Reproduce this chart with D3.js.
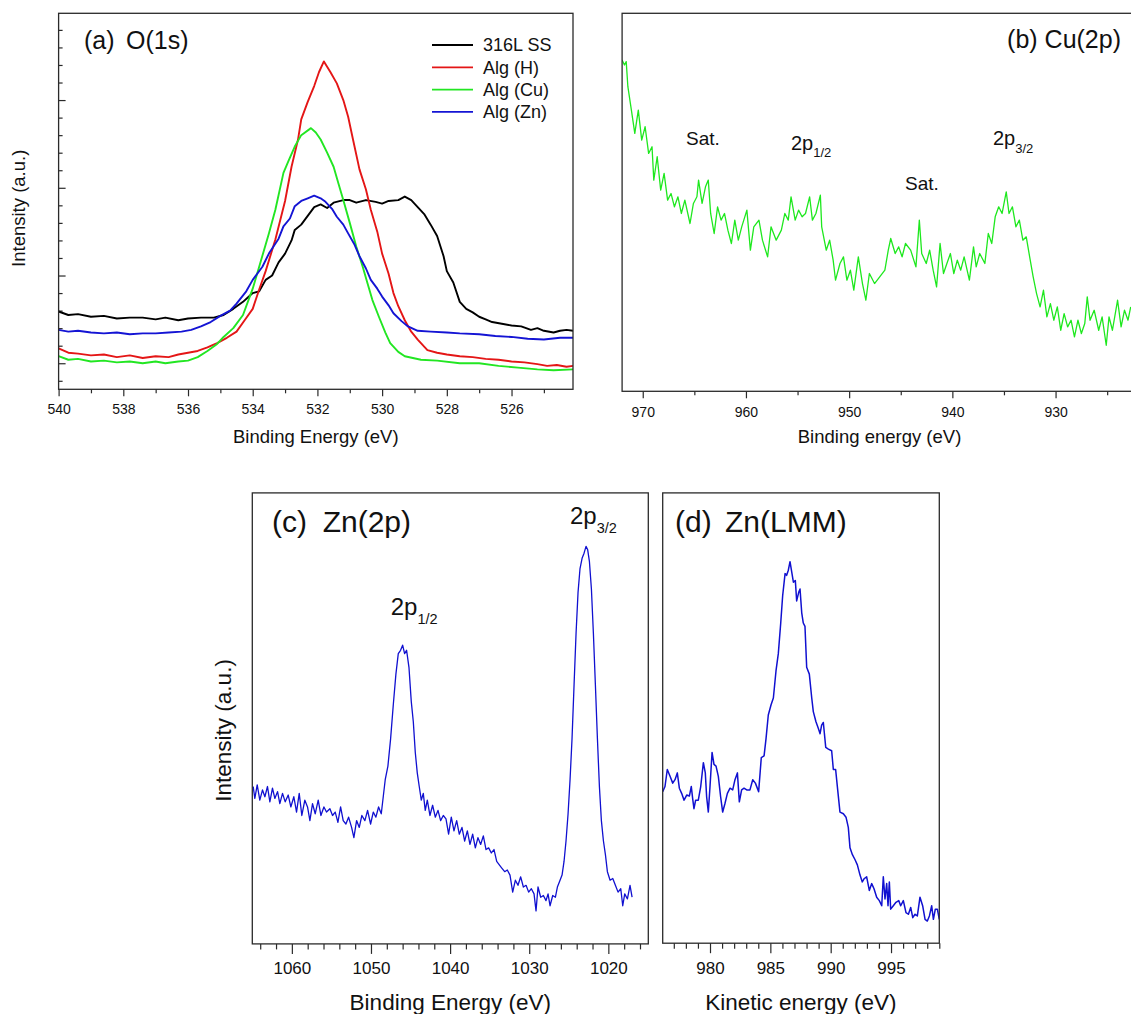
<!DOCTYPE html>
<html>
<head>
<meta charset="utf-8">
<title>XPS spectra</title>
<script src="https://d3js.org/d3.v7.min.js"></script>
<style>
  body { margin: 0; background: #fff; }
  svg { display: block; font-family: "Liberation Sans", Arial, sans-serif; }
</style>
</head>
<body>
<svg id="fig" width="1131" height="1014"></svg>
<script>

// (a) O(1s)  [binding energy (eV), intensity (a.u.)]
var o1sSS = [[540,0.59],[539.7,0.55],[539.4,0.56],[539,0.53],[538.6,0.54],[538.2,0.51],[537.8,0.52],[537.4,0.52],[537,0.50],[536.7,0.52],[536.3,0.49],[536,0.51],[535.6,0.52],[535.2,0.52],[534.9,0.55],[534.6,0.62],[534.3,0.70],[534,0.80],[533.8,0.82],[533.6,0.95],[533.4,1.00],[533.2,1.15],[533,1.25],[532.8,1.40],[532.7,1.52],[532.5,1.58],[532.3,1.68],[532.1,1.78],[531.9,1.81],[531.7,1.77],[531.5,1.83],[531.2,1.86],[531,1.86],[530.8,1.83],[530.5,1.86],[530.2,1.84],[530,1.82],[529.8,1.85],[529.5,1.86],[529.3,1.90],[529.1,1.86],[528.9,1.78],[528.7,1.70],[528.5,1.58],[528.3,1.45],[528.1,1.22],[528,1.05],[527.8,0.92],[527.6,0.70],[527.4,0.62],[527.2,0.58],[527,0.53],[526.8,0.50],[526.6,0.47],[526.3,0.45],[526,0.43],[525.7,0.42],[525.4,0.38],[525.2,0.40],[525,0.37],[524.7,0.35],[524.5,0.37],[524.3,0.38],[524.1,0.37]];
var o1sH = [[540,0.17],[539.7,0.12],[539.4,0.11],[539,0.09],[538.6,0.10],[538.2,0.07],[537.8,0.09],[537.4,0.06],[537,0.08],[536.6,0.07],[536.3,0.10],[536,0.12],[535.7,0.14],[535.4,0.18],[535.1,0.23],[534.8,0.29],[534.5,0.36],[534.25,0.49],[534,0.62],[533.8,0.84],[533.6,1.05],[533.3,1.41],[533,1.85],[532.8,2.24],[532.6,2.55],[532.5,2.78],[532.3,2.98],[532.1,3.16],[531.95,3.32],[531.8,3.44],[531.6,3.32],[531.4,3.19],[531.2,3.00],[531.05,2.81],[530.9,2.55],[530.7,2.21],[530.5,1.98],[530.35,1.75],[530.15,1.50],[530,1.25],[529.8,1.02],[529.65,0.80],[529.5,0.65],[529.3,0.49],[529.1,0.36],[528.9,0.27],[528.6,0.15],[528.3,0.12],[528,0.10],[527.6,0.08],[527.2,0.07],[526.8,0.05],[526.4,0.04],[526,0.02],[525.6,0.01],[525.2,-0.01],[524.9,-0.03],[524.6,-0.02],[524.3,-0.04],[524.1,-0.03]];
var o1sCu = [[540,0.08],[539.7,0.04],[539.4,0.05],[539,0.02],[538.6,0.03],[538.2,0.01],[537.8,0.02],[537.4,0.00],[537,0.02],[536.7,0.00],[536.3,0.02],[536,0.03],[535.7,0.07],[535.4,0.14],[535.1,0.22],[534.9,0.30],[534.6,0.40],[534.3,0.55],[534,0.85],[533.8,1.10],[533.5,1.48],[533.3,1.75],[533.05,2.17],[532.9,2.30],[532.7,2.47],[532.5,2.60],[532.2,2.68],[532.05,2.63],[531.9,2.55],[531.7,2.40],[531.5,2.24],[531.35,2.05],[531.2,1.86],[531,1.60],[530.8,1.33],[530.6,1.10],[530.45,0.91],[530.3,0.72],[530.1,0.53],[529.9,0.35],[529.75,0.23],[529.5,0.13],[529.3,0.08],[528.8,0.04],[528.3,0.03],[527.6,0.00],[527,0.00],[526.4,-0.03],[525.8,-0.05],[525.2,-0.07],[524.7,-0.08],[524.1,-0.07]];
var o1sZn = [[540,0.38],[539.7,0.36],[539.4,0.37],[539,0.35],[538.6,0.34],[538.2,0.35],[537.8,0.33],[537.4,0.34],[537,0.34],[536.6,0.35],[536.2,0.36],[535.9,0.38],[535.6,0.42],[535.3,0.47],[535,0.54],[534.7,0.60],[534.5,0.68],[534.2,0.82],[534,0.95],[533.7,1.10],[533.5,1.25],[533.2,1.42],[533.05,1.56],[532.85,1.65],[532.7,1.79],[532.5,1.85],[532.3,1.88],[532.1,1.91],[531.9,1.88],[531.75,1.84],[531.55,1.76],[531.4,1.67],[531.2,1.58],[531.05,1.48],[530.85,1.35],[530.7,1.22],[530.5,1.08],[530.35,0.95],[530.15,0.85],[530,0.76],[529.8,0.66],[529.65,0.57],[529.4,0.48],[529.2,0.42],[528.9,0.37],[528.5,0.36],[528,0.35],[527.6,0.34],[527,0.33],[526.5,0.31],[526,0.30],[525.5,0.28],[525,0.27],[524.5,0.29],[524.1,0.29]];
var seriesNames = ["316L SS", "Alg (H)", "Alg (Cu)", "Alg (Zn)"];

// (b) Cu(2p)
var cu2p = [[972.00,102.0],[971.77,100.5],[971.60,101.5],[971.44,94.0],[971.10,87.0],[970.77,80.0],[970.43,87.0],[970.10,78.0],[969.77,82.0],[969.43,74.0],[969.10,76.0],[968.93,66.0],[968.60,73.0],[968.26,63.0],[967.93,68.0],[967.59,60.0],[967.26,62.0],[966.93,58.0],[966.59,61.0],[966.26,56.0],[965.92,60.0],[965.42,53.0],[965.09,59.0],[964.75,61.0],[964.59,66.0],[964.25,59.0],[963.92,64.0],[963.65,66.0],[963.42,56.0],[963.08,50.0],[962.75,58.0],[962.41,54.0],[962.08,56.0],[961.75,51.0],[961.41,47.0],[961.08,54.0],[960.74,48.0],[960.41,52.0],[959.91,57.0],[959.57,45.0],[959.24,52.0],[958.74,54.0],[958.40,48.0],[957.90,43.0],[957.57,52.0],[957.07,48.0],[956.57,51.0],[956.23,56.0],[955.90,54.0],[955.63,61.0],[955.23,54.0],[954.90,57.0],[954.56,55.0],[954.23,56.0],[953.83,61.0],[953.56,54.0],[953.22,56.0],[952.79,61.5],[952.66,52.0],[952.22,45.0],[951.89,48.0],[951.55,42.0],[951.32,36.0],[950.89,41.0],[950.55,43.0],[950.22,36.0],[949.88,39.0],[949.55,33.0],[949.11,43.0],[948.71,35.0],[948.38,30.0],[948.04,38.0],[947.54,35.0],[947.04,37.0],[946.54,39.0],[946.21,45.0],[945.97,48.5],[945.54,44.0],[945.20,46.0],[944.87,43.0],[944.54,47.0],[944.04,45.0],[943.53,40.0],[943.20,54.0],[942.97,44.0],[942.53,41.0],[942.20,45.0],[941.86,39.0],[941.53,34.0],[941.19,47.0],[940.86,38.0],[940.53,41.0],[940.19,44.0],[939.86,38.0],[939.52,42.0],[939.19,39.0],[938.86,43.0],[938.35,36.0],[937.95,46.0],[937.69,40.0],[937.35,44.0],[936.85,41.0],[936.52,50.0],[936.18,47.0],[935.85,55.0],[935.51,58.0],[935.18,56.0],[934.78,62.5],[934.51,56.0],[934.18,58.0],[933.84,52.0],[933.51,54.0],[933.17,48.0],[932.84,49.0],[932.51,43.0],[932.17,37.0],[931.84,32.0],[931.50,28.0],[931.17,33.0],[930.84,25.0],[930.50,29.0],[930.17,24.0],[929.83,28.0],[929.50,21.0],[929.17,26.0],[928.83,22.0],[928.50,24.0],[928.17,19.0],[927.83,24.0],[927.50,20.0],[927.17,23.0],[926.93,31.0],[926.66,24.0],[926.26,27.0],[925.82,21.0],[925.49,25.0],[925.09,16.5],[924.82,25.0],[924.49,21.0],[923.99,30.0],[923.65,22.0],[923.32,27.0],[922.98,24.0],[922.72,28.0]];

// (c) Zn(2p)
var zn2p = [[1064.89,50.0],[1064.68,46.5],[1064.38,50.5],[1064.05,46.0],[1063.71,49.0],[1063.41,47.0],[1063.08,50.0],[1062.78,45.5],[1062.45,49.5],[1062.15,46.5],[1061.81,48.5],[1061.52,45.0],[1061.18,48.0],[1060.84,45.5],[1060.46,47.5],[1060.13,44.0],[1059.75,47.0],[1059.41,42.5],[1059.07,48.0],[1058.74,41.5],[1058.36,46.0],[1058.02,44.0],[1057.72,40.0],[1057.39,45.0],[1057.05,42.0],[1056.67,46.0],[1056.33,41.5],[1055.95,44.0],[1055.62,42.5],[1055.19,43.5],[1054.86,41.5],[1054.52,42.5],[1054.18,39.5],[1053.84,44.0],[1053.51,40.0],[1053.17,39.0],[1052.83,41.0],[1052.45,38.0],[1052.16,35.0],[1051.82,40.0],[1051.48,38.0],[1051.15,41.5],[1050.77,40.0],[1050.43,43.0],[1050.05,39.0],[1049.71,42.5],[1049.38,41.0],[1049.04,44.0],[1048.70,42.0],[1048.45,47.0],[1048.20,52.0],[1047.86,56.0],[1047.52,64.0],[1047.18,74.0],[1046.85,83.0],[1046.55,89.0],[1046.26,90.0],[1046.00,91.5],[1045.75,89.0],[1045.50,90.0],[1045.20,85.0],[1044.91,75.0],[1044.65,69.0],[1044.40,60.0],[1044.15,54.0],[1043.90,50.0],[1043.64,46.0],[1043.39,48.0],[1043.14,43.0],[1042.88,46.0],[1042.55,41.5],[1042.21,44.5],[1041.87,41.0],[1041.53,43.0],[1041.20,40.0],[1040.86,41.5],[1040.52,40.5],[1040.19,36.0],[1039.85,41.0],[1039.51,37.0],[1039.17,40.0],[1038.84,36.0],[1038.50,38.0],[1038.16,34.0],[1037.82,37.0],[1037.49,33.0],[1037.15,36.0],[1036.81,32.0],[1036.48,35.0],[1036.14,33.0],[1035.80,35.5],[1035.46,31.5],[1035.13,32.0],[1034.79,30.5],[1034.45,31.5],[1034.11,28.0],[1033.78,27.0],[1033.44,26.0],[1033.10,25.0],[1032.77,25.5],[1032.43,24.0],[1032.09,19.0],[1031.75,22.5],[1031.42,21.0],[1031.08,23.5],[1030.74,20.5],[1030.40,21.0],[1030.07,19.0],[1029.73,20.0],[1029.39,18.5],[1029.14,13.5],[1028.89,20.5],[1028.55,17.5],[1028.21,18.0],[1027.88,16.5],[1027.62,18.5],[1027.37,15.0],[1027.03,18.0],[1026.69,17.5],[1026.44,20.5],[1026.19,22.0],[1025.85,24.0],[1025.60,28.0],[1025.35,34.0],[1025.09,42.0],[1024.84,52.0],[1024.59,64.0],[1024.33,80.0],[1024.08,95.0],[1023.83,107.0],[1023.58,114.0],[1023.32,117.0],[1023.07,118.5],[1022.82,120.5],[1022.61,119.5],[1022.39,116.0],[1022.14,108.0],[1021.89,95.0],[1021.64,80.0],[1021.38,64.0],[1021.13,50.0],[1020.88,40.0],[1020.62,34.0],[1020.37,30.0],[1020.12,25.0],[1019.78,22.5],[1019.44,23.0],[1019.11,21.0],[1018.77,19.0],[1018.43,20.0],[1018.18,15.0],[1017.93,18.5],[1017.59,17.0],[1017.26,21.0],[1017.00,17.5]];

// (d) Zn(LMM)  [kinetic energy (eV), intensity]
var znLMM = [[976.08,48.5],[976.27,50.0],[976.46,55.0],[976.69,53.0],[976.91,51.0],[977.10,52.0],[977.29,54.0],[977.46,49.5],[977.65,48.0],[977.85,46.0],[978.07,47.5],[978.29,47.2],[978.45,50.0],[978.56,46.5],[978.67,43.5],[978.81,46.0],[979.03,46.0],[979.23,50.0],[979.45,57.0],[979.61,54.0],[979.72,47.0],[979.86,42.5],[980.00,50.0],[980.17,60.0],[980.33,56.5],[980.50,56.0],[980.69,53.0],[980.88,47.0],[981.05,42.5],[981.24,45.0],[981.44,48.0],[981.66,49.5],[981.88,49.0],[982.07,52.0],[982.27,54.0],[982.43,45.5],[982.62,49.0],[982.82,49.5],[983.04,49.0],[983.31,49.0],[983.54,52.0],[983.76,51.0],[984.03,48.5],[984.25,58.5],[984.48,59.0],[984.64,64.0],[984.83,71.0],[985.06,74.0],[985.25,76.0],[985.47,84.0],[985.66,89.0],[985.86,98.0],[986.02,106.0],[986.22,112.5],[986.35,112.0],[986.49,113.5],[986.63,116.0],[986.77,113.0],[986.91,110.0],[987.07,110.5],[987.18,104.5],[987.35,107.0],[987.46,108.0],[987.60,101.0],[987.73,98.0],[987.87,97.0],[988.01,85.0],[988.23,83.0],[988.43,76.0],[988.56,72.0],[988.78,69.0],[988.98,67.0],[989.12,65.5],[989.25,68.0],[989.39,68.8],[989.59,61.5],[989.81,61.0],[990.08,60.5],[990.22,55.0],[990.41,55.0],[990.58,49.0],[990.77,42.5],[991.05,42.0],[991.27,41.0],[991.46,38.0],[991.60,32.0],[991.80,30.0],[992.02,28.5],[992.21,27.0],[992.43,24.0],[992.62,22.0],[992.79,23.0],[992.98,23.5],[993.20,19.5],[993.40,21.5],[993.59,20.0],[993.81,17.5],[994.03,16.5],[994.23,15.0],[994.36,23.5],[994.50,17.0],[994.64,21.5],[994.75,15.0],[994.86,22.0],[994.97,14.0],[995.19,15.0],[995.41,16.0],[995.64,16.5],[995.80,15.0],[996.02,16.5],[996.24,13.0],[996.44,12.5],[996.63,14.5],[996.80,11.5],[996.99,12.5],[997.18,12.0],[997.40,17.5],[997.62,15.0],[997.82,11.0],[998.01,10.5],[998.18,12.0],[998.37,15.0],[998.51,11.0],[998.67,14.0],[998.84,14.0],[999.00,11.0]];

// tick labels
var ticksA = [540, 538, 536, 534, 532, 530, 528, 526];
var ticksAy = [0, 1, 2, 3];
var ticksB = [970, 960, 950, 940, 930];
var ticksC = [1060, 1050, 1040, 1030, 1020];
var ticksD = [980, 985, 990, 995];

var svg = d3.select("#fig");
var ink = "#111";
var frameColor = "#2a2a2a";

function notIn(list) {
  return function(v) { return list.every(function(m) { return Math.abs(m - v) > 1e-6; }); };
}

function panel(p) {
  var x = d3.scaleLinear().domain(p.xDomain).range([p.left, p.right]);
  var y = d3.scaleLinear().domain(p.yDomain).range([p.bottom, p.top]);

  svg.append("clipPath").attr("id", "clip-" + p.name)
    .append("rect")
    .attr("x", p.left).attr("y", p.top)
    .attr("width", p.right - p.left).attr("height", p.bottom - p.top);

  var g = svg.append("g");

  // minor then major x ticks, outward
  var gxm = g.append("g").attr("transform", "translate(0," + p.bottom + ")")
    .call(d3.axisBottom(x).tickValues(p.xMinor).tickSize(p.minorLen).tickFormat(""));
  var gx = g.append("g").attr("transform", "translate(0," + p.bottom + ")")
    .call(d3.axisBottom(x).tickValues(p.xMajor).tickSize(p.majorLen).tickFormat(d3.format("d")));
  [gxm, gx].forEach(function(a) {
    a.select(".domain").remove();
    a.selectAll("line").attr("stroke", frameColor).attr("stroke-width", 1.2);
  });
  gx.selectAll("text")
    .attr("y", p.labelOffset).attr("dy", null)
    .attr("fill", ink)
    .style("font-size", p.tickFont + "px")
    .style("font-family", "Liberation Sans, Arial, sans-serif");

  if (p.yMajor) {
    var gym = g.append("g").attr("transform", "translate(" + p.left + ",0)")
      .call(d3.axisRight(y).tickValues(p.yMinor).tickSize(p.minorLen).tickFormat(""));
    var gy = g.append("g").attr("transform", "translate(" + p.left + ",0)")
      .call(d3.axisRight(y).tickValues(p.yMajor).tickSize(p.majorLen).tickFormat(""));
    [gym, gy].forEach(function(a) {
      a.select(".domain").remove();
      a.selectAll("line").attr("stroke", frameColor).attr("stroke-width", 1.2);
    });
  }

  var line = d3.line()
    .x(function(d) { return x(d[0]); })
    .y(function(d) { return y(d[1]); });

  var curves = g.append("g").attr("clip-path", "url(#clip-" + p.name + ")");
  p.series.forEach(function(s) {
    curves.append("path")
      .datum(s.data)
      .attr("fill", "none")
      .attr("stroke", s.color)
      .attr("stroke-width", p.lineWidth)
      .attr("stroke-linejoin", "round")
      .attr("d", line);
  });

  g.append("rect")
    .attr("x", p.left).attr("y", p.top)
    .attr("width", p.right - p.left).attr("height", p.bottom - p.top)
    .attr("fill", "none")
    .attr("stroke", frameColor)
    .attr("stroke-width", 1.3);

  g.append("text")
    .attr("x", (p.left + Math.min(p.right, 1131)) / 2 + (p.xTitleShift || 0))
    .attr("y", p.xTitleY)
    .attr("text-anchor", "middle")
    .attr("fill", ink)
    .style("font-size", p.titleFont + "px")
    .text(p.xTitle);

  if (p.yTitle) {
    g.append("text")
      .attr("transform", "translate(" + p.yTitleX + "," + ((p.top + p.bottom) / 2 + (p.yTitleShift || 0)) + ") rotate(-90)")
      .attr("text-anchor", "middle")
      .attr("fill", ink)
      .style("font-size", p.titleFont + "px")
      .text(p.yTitle);
  }
  return { x: x, y: y, g: g };
}

function label(g, x, y, size, txt, anchor) {
  return g.append("text")
    .attr("x", x).attr("y", y)
    .attr("text-anchor", anchor || "start")
    .attr("fill", ink)
    .style("font-size", size + "px")
    .text(txt);
}

function orbital(g, x, y, size, main, sub, subSize, subDrop) {
  var t = g.append("text").attr("x", x).attr("y", y).attr("fill", ink).style("font-size", size + "px");
  t.append("tspan").text(main);
  t.append("tspan").attr("dy", subDrop).style("font-size", subSize + "px").text(sub);
}

var color = d3.scaleOrdinal()
  .domain(seriesNames)
  .range(["#000000", "#e41616", "#22e622", "#1414d4"]);

// ---- (a) O(1s)
var pa = panel({
  name: "a", left: 58.6, right: 573, top: 13.3, bottom: 389.3,
  xDomain: [540, 524.1], yDomain: [-0.297, 3.989],
  xMajor: ticksA, xMinor: d3.range(539, 524, -2),
  yMajor: ticksAy, yMinor: d3.range(-0.2, 3.95, 0.2).filter(notIn(ticksAy)),
  majorLen: 7, minorLen: 4, labelOffset: 25, tickFont: 14,
  xTitle: "Binding Energy (eV)", xTitleY: 443, titleFont: 18.5, xTitleShift: 0,
  yTitle: "Intensity (a.u.)", yTitleX: 25, yTitleShift: 7,
  lineWidth: 1.9,
  series: [
    { data: o1sSS, color: color("316L SS") },
    { data: o1sH, color: color("Alg (H)") },
    { data: o1sCu, color: color("Alg (Cu)") },
    { data: o1sZn, color: color("Alg (Zn)") }
  ]
});
label(pa.g, 84, 49, 25, "(a)");
label(pa.g, 126, 49, 25, "O(1s)");

var legend = pa.g.selectAll(".legend")
  .data(seriesNames).enter()
  .append("g")
  .attr("class", "legend")
  .attr("transform", function(d, i) { return "translate(432," + (45 + 22.3 * i) + ")"; });
legend.append("line")
  .attr("x1", 0).attr("x2", 41)
  .attr("stroke", function(d) { return color(d); })
  .attr("stroke-width", 1.8);
legend.append("text")
  .attr("x", 51).attr("dy", "0.36em")
  .attr("fill", ink)
  .style("font-size", "18px")
  .text(function(d) { return d; });

// ---- (b) Cu(2p)
var pb = panel({
  name: "b", left: 622.1, right: 1134, top: 13.3, bottom: 391.3,
  xDomain: [972, 922.4], yDomain: [2.7, 116],
  xMajor: ticksB, xMinor: [965, 955, 945, 935, 925],
  majorLen: 7, minorLen: 4, labelOffset: 25.5, tickFont: 14,
  xTitle: "Binding energy (eV)", xTitleY: 443, titleFont: 18.5, xTitleShift: 3,
  lineWidth: 1.3,
  series: [{ data: cu2p, color: "#1ee81e" }]
});
label(pb.g, 1121, 48, 25, "(b) Cu(2p)", "end");
label(pb.g, 686, 145, 19, "Sat.");
orbital(pb.g, 791, 150, 20, "2p", "1/2", 13, 7);
label(pb.g, 905, 190, 19, "Sat.");
orbital(pb.g, 993, 145, 20, "2p", "3/2", 13, 8);

// ---- (c) Zn(2p)
var pc = panel({
  name: "c", left: 252.3, right: 648.3, top: 492.9, bottom: 943.9,
  xDomain: [1065, 1014.95], yDomain: [3.8, 136.2],
  xMajor: ticksC, xMinor: d3.range(1064, 1015, -2).filter(notIn(ticksC)),
  majorLen: 10, minorLen: 5.5, labelOffset: 30, tickFont: 17,
  xTitle: "Binding Energy (eV)", xTitleY: 1010, titleFont: 22.5,
  yTitle: "Intensity (a.u.)", yTitleX: 231, yTitleShift: 12,
  lineWidth: 1.3,
  series: [{ data: zn2p, color: "#1010d0" }]
});
label(pc.g, 272, 532, 30, "(c)");
label(pc.g, 322.7, 532, 30, "Zn(2p)");
orbital(pc.g, 390.7, 614.5, 24, "2p", "1/2", 14.5, 9);
orbital(pc.g, 570, 524.3, 24, "2p", "3/2", 14.5, 8.5);

// ---- (d) Zn(LMM)
var pd = panel({
  name: "d", left: 662.7, right: 939.3, top: 492.9, bottom: 943.2,
  xDomain: [976.08, 999.0], yDomain: [4.0, 136.2],
  xMajor: ticksD, xMinor: d3.range(977, 999.5, 1).filter(notIn(ticksD)),
  majorLen: 10, minorLen: 5.5, labelOffset: 30.5, tickFont: 17,
  xTitle: "Kinetic energy (eV)", xTitleY: 1010, titleFont: 22.5, xTitleShift: -0.2,
  lineWidth: 1.5,
  series: [{ data: znLMM, color: "#1010d0" }]
});
label(pd.g, 675, 532, 30, "(d)");
label(pd.g, 725, 532, 30, "Zn(LMM)");

</script>
</body>
</html>
